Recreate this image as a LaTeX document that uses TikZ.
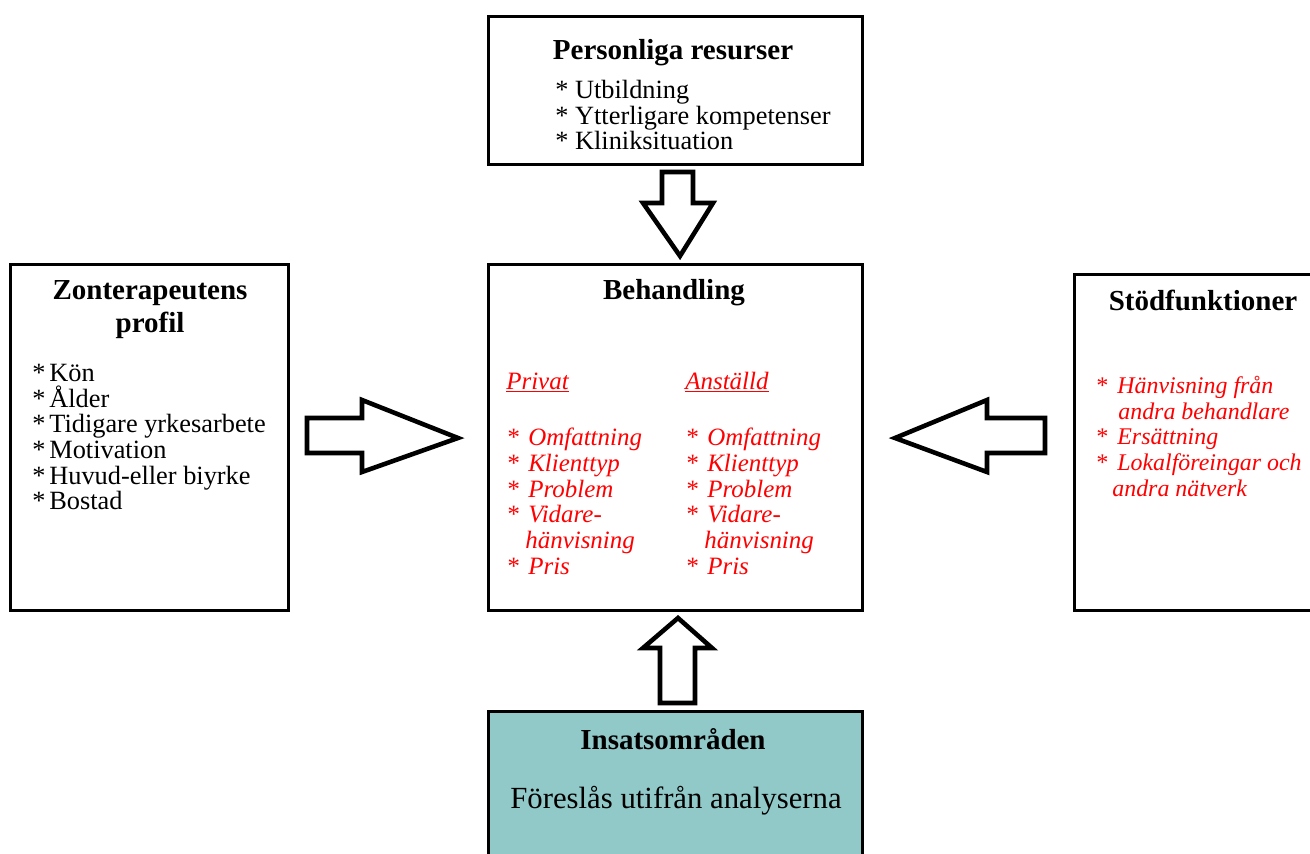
\documentclass[tikz,border=0pt]{standalone}
\usepackage{fontspec}
\setmainfont{Liberation Serif}
\usetikzlibrary{positioning}

\definecolor{dotfill}{RGB}{145,200,200}
\newcommand{\st}{\makebox[0.44cm][l]{*}}
\newcommand{\bst}{\makebox[0.34cm][l]{*}}

\tikzset{
  box/.style={draw, line width=1.5pt, anchor=north west, inner sep=0pt},
  blockarrow/.style={draw, line width=2.6pt, fill=white, line join=miter},
  head/.style={font=\fontsize{16.5}{19}\selectfont\bfseries, anchor=base, inner sep=0pt, align=center},
  items/.style={font=\fontsize{15}{14.6}\selectfont, anchor=north west, inner sep=0pt, align=left},
  ritems/.style={items, text=red, font=\fontsize{14.2}{14.6}\selectfont\itshape},
  rhead/.style={text=red, font=\fontsize{14.2}{16}\selectfont\itshape, anchor=base west, inner sep=0pt}
}

\begin{document}
\begin{tikzpicture}[x=0.02cm,y=-0.02cm]
    \clip (0,0) rectangle (1310,854);
    % boxes
    \node[box, minimum width=7.48cm, minimum height=2.96cm] (res) at (487,15) {};
    \node[box, minimum width=7.48cm, minimum height=6.92cm] (beh) at (487,263) {};
    \node[box, minimum width=5.56cm, minimum height=6.92cm] (zon) at (9,263) {};
    \node[box, minimum width=5.4cm, minimum height=6.72cm] (stod) at (1073,273) {};
    \node[box, fill=dotfill, minimum width=7.48cm, minimum height=3.3cm] (ins) at (487,710) {};

    % block arrows
    \draw[blockarrow] (662,172)--(693,172)--(693,203)--(713,203)--(680,256)--(643,203)--(662,203)--cycle;
    \draw[blockarrow] (660,703)--(695,703)--(695,648)--(712,648)--(678,618)--(643,648)--(660,648)--cycle;
    \draw[blockarrow] (307,418)--(362,418)--(362,400)--(458,438)--(362,472)--(362,453)--(307,453)--cycle;
    \draw[blockarrow] (1045,418)--(987,418)--(987,400)--(895,438)--(987,472)--(987,453)--(1045,453)--cycle;

    % Personliga resurser
    \node[head] (resh) at (673,60) {Personliga resurser};
    \node[items] (resl) at (555,80) {* Utbildning\\* Ytterligare kompetenser\\* Kliniksituation};

    % Zonterapeutens profil
    \node[head] (zonh) at (150,333) {Zonterapeutens\\profil};
    \node[items] (zonl) at (32,364) {\bst Kön\\\bst Ålder\\\bst Tidigare yrkesarbete\\\bst Motivation\\\bst Huvud-eller biyrke\\\bst Bostad};

    % Behandling
    \node[head] (behh) at (674,300) {Behandling};
    \node[rhead] (priv) at (506,389) {\underline{Privat}};
    \node[rhead] (anst) at (685,389) {\underline{Anställd}};
    \node[ritems] (privl) at (506,428) {\st Omfattning\\\st Klienttyp\\\st Problem\\\st Vidare-\\\hspace{0.38cm}hänvisning\\\st Pris};
    \node[ritems] (anstl) at (685,428) {\st Omfattning\\\st Klienttyp\\\st Problem\\\st Vidare-\\\hspace{0.38cm}hänvisning\\\st Pris};

    % Stödfunktioner
    \node[head] (stodh) at (1203,311) {Stödfunktioner};
    \node[ritems, font=\fontsize{13.6}{14.6}\selectfont\itshape] (stodl) at (1095,376) {\st Hänvisning från\\\hspace{0.46cm}andra behandlare\\\st Ersättning\\\st Lokalföreingar och\\\hspace{0.34cm}andra nätverk};

    % Insatsområden
    \node[head] (insh) at (673,749) {Insatsområden};
    \node[head, font=\fontsize{17.5}{19}\selectfont] (insl) at (676,808) {Föreslås utifrån analyserna};
\end{tikzpicture}
\end{document}
